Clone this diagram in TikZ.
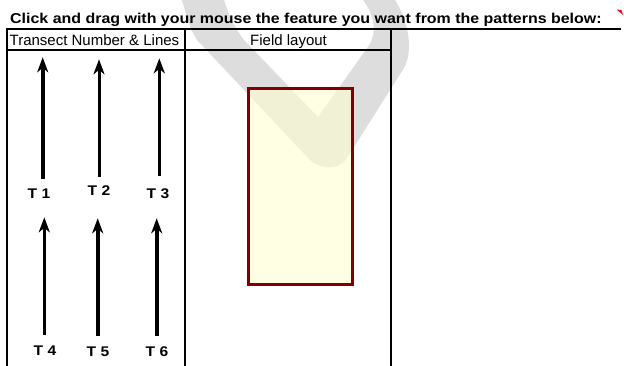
\documentclass[tikz,border=0pt]{standalone}
\usepackage{fontspec}
\setmainfont{Liberation Sans}
\usetikzlibrary{arrows.meta}
\definecolor{wmgray}{RGB}{221,221,221}
\definecolor{boxred}{RGB}{128,0,0}
\definecolor{boxfill}{RGB}{255,255,208}
\definecolor{markred}{RGB}{235,20,20}
\begin{document}
\begin{tikzpicture}[x=1pt,y=-1pt,
  tableline/.style={line width=2pt, black},
  tarrow/.style={line width=3.6pt, black, -{Stealth[length=15pt,width=11pt,inset=4.5pt]}},
  tlabel/.style={font=\fontsize{14}{14}\selectfont\bfseries, inner sep=0pt, anchor=base},
  hdr/.style={font=\fontsize{15}{15}\selectfont, inner sep=0pt, anchor=base west},
  titletext/.style={font=\fontsize{14.3}{14.3}\selectfont\bfseries, inner sep=0pt, anchor=base west},
  fieldbox/.style={draw=boxred, line width=3pt, fill=boxfill, fill opacity=0.6, draw opacity=1,
    minimum width=104pt, minimum height=196pt, inner sep=0pt, outer sep=0pt}
]
\useasboundingbox (0,0) rectangle (624,365);
% watermark
\fill[wmgray] (182,0) .. controls (186,14) and (190,30) .. (197,40) -- (310,160)
  .. controls (318,168) and (338,172) .. (347,158) -- (404,68)
  .. controls (414,50) and (408,20) .. (395,0) -- (363,0)
  .. controls (372,12) and (378,28) .. (370,44) -- (318,117) -- (244,40)
  .. controls (236,30) and (228,14) .. (224,0) -- cycle;
% red corner mark
\fill[markred] (616.5,9.5) -- (621.5,10) -- (623,15) -- cycle;
% title
\node[titletext] (title) at (10,23.5) {\scalebox{1.116}[1]{Click and drag with your mouse the feature you want from the patterns below:}};
% table
\draw[tableline] (6,29) -- (621,29);
\draw[tableline] (7,29) -- (7,366);
\draw[tableline] (184.5,29) -- (184.5,366);
\draw[tableline] (391,29) -- (391,366);
\draw[tableline] (7,50) -- (391,50);
\node[hdr] (h1) at (9.5,45) {Transect Number \& Lines};
\node[hdr] (h2) at (250,45) {Field layout};
% field rectangle
\node[fieldbox] (field) at (300.5,186.5) {};
% arrows
\coordinate (a1b) at (42.7,178.5); \coordinate (a1t) at (42.7,57.3);
\coordinate (a2b) at (99,176.7);   \coordinate (a2t) at (99,59.3);
\coordinate (a3b) at (159.3,176);  \coordinate (a3t) at (159.3,58.3);
\coordinate (a4b) at (44.3,335);   \coordinate (a4t) at (44.3,217.3);
\coordinate (a5b) at (97.7,336);   \coordinate (a5t) at (97.7,218.3);
\coordinate (a6b) at (156.7,336);  \coordinate (a6t) at (156.7,218.3);
\draw[tarrow] (a1b) -- (a1t);
\draw[tarrow, line width=3pt] (a2b) -- (a2t);
\draw[tarrow] (a3b) -- (a3t);
\draw[tarrow] (a4b) -- (a4t);
\draw[tarrow] (a5b) -- (a5t);
\draw[tarrow] (a6b) -- (a6t);
% labels
\node[tlabel] (t1) at (39,198) {\scalebox{1.116}[1]{T 1}};
\node[tlabel] (t2) at (99,195) {\scalebox{1.116}[1]{T 2}};
\node[tlabel] (t3) at (158,198) {\scalebox{1.116}[1]{T 3}};
\node[tlabel] (t4) at (45,355) {\scalebox{1.116}[1]{T 4}};
\node[tlabel] (t5) at (98,356) {\scalebox{1.116}[1]{T 5}};
\node[tlabel] (t6) at (157,356) {\scalebox{1.116}[1]{T 6}};
\end{tikzpicture}
\end{document}
